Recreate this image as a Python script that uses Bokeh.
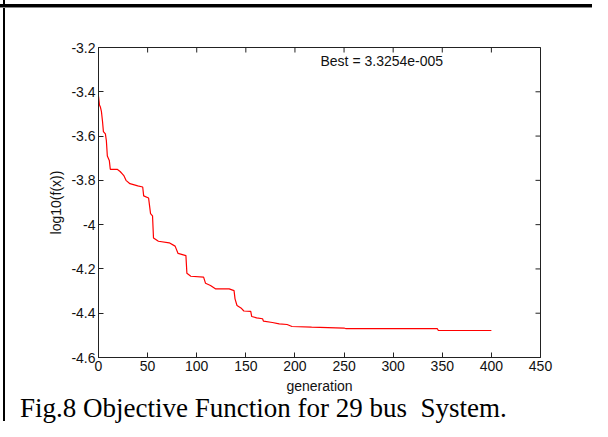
import math
from bokeh.plotting import figure
from bokeh.models import Range1d, FixedTicker, NumeralTickFormatter, Label, Div
from bokeh.layouts import column
from bokeh.embed import file_html
from bokeh.resources import INLINE

# ---- data ----
generation = [0, 1, 2, 3, 4, 5, 7, 8, 9, 11, 12, 19, 22, 24, 26, 28, 32, 40, 45, 46,
              51, 53, 55, 56, 61, 72, 78, 81, 89, 90, 94, 107, 109, 114, 119, 133,
              138, 139, 141, 145, 148, 155, 156, 161, 167, 168, 177, 184, 192, 197,
              217, 250, 252, 345, 346, 400]
log_f = [-3.42, -3.46, -3.47, -3.49, -3.53, -3.58, -3.59, -3.62, -3.69, -3.71, -3.75,
         -3.75, -3.76, -3.77, -3.78, -3.80, -3.815, -3.825, -3.83, -3.87,
         -3.88, -3.95, -3.96, -4.06, -4.075, -4.082, -4.097, -4.13, -4.14, -4.22,
         -4.233, -4.237, -4.265, -4.275, -4.29, -4.29,
         -4.298, -4.335, -4.365, -4.376, -4.39, -4.392, -4.415, -4.421, -4.425,
         -4.436, -4.442, -4.448, -4.451, -4.46,
         -4.463, -4.467, -4.47, -4.47, -4.478, -4.478]
x_ticks = [0, 50, 100, 150, 200, 250, 300, 350, 400, 450]
y_ticks = [-4.6, -4.4, -4.2, -4.0, -3.8, -3.6, -3.4, -3.2]
x_min, x_max = 0, 450
y_min, y_max = -4.6, -3.2
best_text = "Best = 3.3254e-005"
caption_text = "Fig.8 Objective Function for 29 bus  System."
x_label = "generation"
y_label = "log10(f(x))"

FONT = "Liberation Sans"
FS = "14px"
AX_COLOR = "#222222"
TXT = "#111111"

p = figure(width=592, height=397, output_backend="svg", toolbar_location=None,
           x_range=Range1d(x_min, x_max), y_range=Range1d(y_min, y_max),
           min_border_left=98, min_border_right=52, min_border_top=47,
           min_border_bottom=40, x_axis_label=x_label, y_axis_label=y_label)

p.grid.visible = False
p.outline_line_color = AX_COLOR
p.outline_line_width = 1
p.background_fill_color = "white"
p.border_fill_color = None

for ax in (p.xaxis[0], p.yaxis[0]):
    ax.axis_line_color = AX_COLOR
    ax.major_tick_line_color = AX_COLOR
    ax.major_tick_in = 5
    ax.major_tick_out = 0
    ax.minor_tick_line_color = None
    ax.major_label_text_font = FONT
    ax.major_label_text_font_size = FS
    ax.major_label_text_color = TXT
    ax.axis_label_text_font = FONT
    ax.axis_label_text_font_size = FS
    ax.axis_label_text_font_style = "normal"
    ax.axis_label_text_color = TXT

p.xaxis[0].ticker = FixedTicker(ticks=x_ticks)
p.yaxis[0].ticker = FixedTicker(ticks=y_ticks)
p.yaxis[0].formatter = NumeralTickFormatter(format="0.[0]")
p.xaxis[0].major_label_standoff = 3
p.xaxis[0].axis_label_standoff = 4
p.yaxis[0].major_label_standoff = 3
p.yaxis[0].axis_label_standoff = 4

# inward tick marks on the top and right edges of the box (half of each dash
# is clipped by the frame, leaving a 5px tick pointing inward)
p.scatter(x_ticks, [y_max] * len(x_ticks), marker="dash", size=10,
          angle=math.pi / 2, line_color=AX_COLOR, line_width=1)
p.scatter([x_max] * len(y_ticks), y_ticks, marker="dash", size=10,
          line_color=AX_COLOR, line_width=1)

p.line(generation, log_f, line_color="#ff0000", line_width=1.2)

p.add_layout(Label(x=226, y=-3.263, text=best_text, text_font=FONT,
                   text_font_size=FS, text_baseline="middle", text_color=TXT))

caption = Div(text=caption_text, width=592, height=24,
              styles={"font-family": "Liberation Serif", "font-size": "27px",
                      "line-height": "22px", "padding-left": "20px",
                      "color": "black", "white-space": "pre", "margin": "0"})

layout = column(p, caption, spacing=0, width=592, height=421,
                styles={"background-color": "white",
                        "background-image": "linear-gradient(#000,#000), linear-gradient(#888,#888), linear-gradient(#000,#000)",
                        "background-size": "100% 3px, 100% 1px, 2px 100%",
                        "background-position": "0 4px, 0 7px, 3px 0",
                        "background-repeat": "no-repeat"})

open("out.html", "w").write(file_html(layout, INLINE))
